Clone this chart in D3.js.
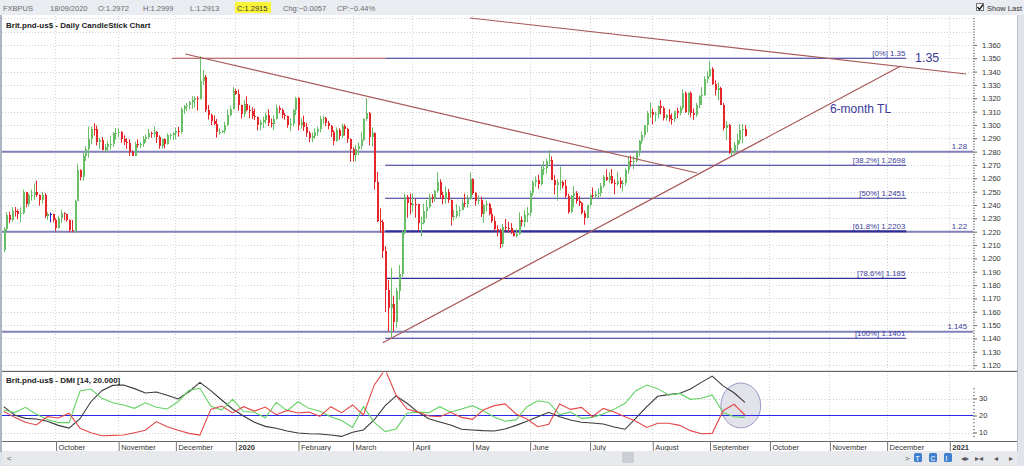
<!DOCTYPE html>
<html><head><meta charset="utf-8">
<script src="https://cdn.jsdelivr.net/npm/d3@7"></script>
<style>
html,body{margin:0;padding:0;background:#e3e7ee;}
svg{display:block;font-family:"Liberation Sans",Arial,sans-serif;}
</style></head><body>
<svg id="chart" width="1024" height="466"></svg>
<script>
// ---------------- DATA ----------------
const symbol = "FXBPUS";
const firstDay = new Date(2019, 8, 4);           // first candle (weekday series)
const opens = [
1.2063,1.2218,1.2324,1.2289,1.2355,1.2354,1.2332,1.2339,1.2499,1.2411,1.2473,1.2475,1.2494,1.2474,1.2434,1.2474,1.2315,1.2330,1.2330,
1.2290,1.2229,1.2301,1.2339,1.2330,1.2290,1.2212,1.2207,1.2432,1.2662,1.2610,1.2770,1.2820,1.2894,1.2968,1.2967,1.2876,1.2885,1.2813,1.2833,1.2858,1.2860,1.2941,
1.2943,1.2945,1.2893,1.2874,1.2864,1.2800,1.2769,1.2860,1.2853,1.2854,1.2897,1.2910,1.2942,1.2934,1.2944,1.2912,1.2841,1.2893,1.2861,1.2921,1.2923,
1.2936,1.2951,1.2946,1.3119,1.3143,1.3151,1.3169,1.3190,1.3201,1.3195,1.3327,1.3363,1.3110,1.3076,1.3030,1.3006,1.2945,1.2946,1.2952,1.2996,1.3077,1.3118,
1.3255,1.3235,1.3147,1.3082,1.3159,1.3111,1.3106,1.3065,1.3060,1.2997,1.3021,1.3034,1.3075,1.3011,1.3005,1.3048,1.3126,1.3113,1.3071,1.3069,1.3002,1.3010,1.3110,
1.3203,1.2998,1.3019,1.2985,1.2937,1.2899,1.2918,1.2946,1.2970,1.3046,1.3049,1.3011,1.2993,1.2945,1.2877,1.2962,1.2919,1.2990,1.2968,1.2894,
1.2823,1.2778,1.2817,1.2845,1.2886,1.3045,1.3090,1.2912,1.2940,1.2573,1.2282,1.2274,1.2058,1.1763,1.1630,1.1660,1.1520,1.1754,1.1883,1.2194,1.2462,1.2415,
1.2403,1.2410,1.2404,1.2264,1.2266,1.2358,1.2386,1.2458,1.2452,1.2506,1.2573,1.2472,1.2443,1.2495,1.2436,1.2309,1.2319,1.2355,1.2366,1.2416,1.2406,1.2443,
1.2592,1.2490,1.2431,1.2436,1.2336,1.2403,1.2406,1.2332,1.2277,1.2217,1.2204,1.2110,1.2233,1.2229,1.2228,1.2193,1.2164,1.2184,1.2290,1.2271,1.2324,
1.2338,1.2488,1.2569,1.2586,1.2560,1.2669,1.2675,1.2732,1.2739,1.2590,1.2549,1.2570,1.2575,1.2543,1.2470,1.2350,1.2467,1.2490,1.2427,1.2416,1.2337,1.2305,
1.2398,1.2473,1.2471,1.2483,1.2487,1.2543,1.2612,1.2590,1.2621,1.2564,1.2561,1.2577,1.2557,1.2566,1.2660,1.2733,1.2724,1.2732,1.2793,1.2878,1.2927,1.2998,1.3091,
1.3096,1.3076,1.3079,1.3141,1.3126,1.3055,1.3072,1.3048,1.3046,1.3102,1.3089,1.3125,1.3242,1.3096,1.3239,1.3089,1.3072,1.3146,1.3215,1.3226,1.3347,
1.3370,1.3423,1.3306,1.3259,1.3276,1.3153,1.2977,1.3000,1.2790,1.2794,1.2847,1.2885,1.2963,1.2972];
const highs = [
1.2232,1.2346,1.2350,1.2384,1.2385,1.2368,1.2383,1.2515,1.2499,1.2486,1.2515,1.2560,1.2582,1.2480,1.2500,1.2490,1.2345,1.2343,1.2335,
1.2300,1.2320,1.2365,1.2345,1.2335,1.2292,1.2288,1.2440,1.2708,1.2667,1.2790,1.2842,1.2988,1.2988,1.3013,1.2996,1.2902,1.2910,1.2857,1.2880,1.2920,1.2948,1.2977,
1.2975,1.2954,1.2922,1.2900,1.2893,1.2810,1.2874,1.2892,1.2871,1.2916,1.2930,1.2970,1.2950,1.2990,1.2955,1.2922,1.2899,1.2900,1.2936,1.2938,1.2945,
1.2980,1.2985,1.3131,1.3150,1.3165,1.3180,1.3215,1.3215,1.3215,1.3514,1.3412,1.3375,1.3150,1.3086,1.3072,1.3045,1.2975,1.2962,1.3022,1.3118,1.3146,1.3284,
1.3270,1.3266,1.3152,1.3185,1.3215,1.3146,1.3132,1.3122,1.3063,1.3040,1.3062,1.3093,1.3118,1.3048,1.3073,1.3152,1.3144,1.3125,1.3090,1.3070,1.3050,1.3120,1.3210,
1.3210,1.3052,1.3070,1.3015,1.2955,1.2943,1.2975,1.2988,1.3069,1.3070,1.3060,1.3031,1.3000,1.2960,1.2981,1.2975,1.3010,1.3005,1.2980,1.2900,
1.2833,1.2848,1.2870,1.2945,1.3052,1.3200,1.3096,1.2983,1.2945,1.2648,1.2375,1.2290,1.2091,1.1839,1.1930,1.1720,1.1780,1.1950,1.2210,1.2485,1.2475,1.2485,
1.2485,1.2445,1.2410,1.2314,1.2410,1.2438,1.2485,1.2480,1.2515,1.2647,1.2592,1.2500,1.2540,1.2520,1.2440,1.2362,1.2405,1.2390,1.2448,1.2485,1.2476,1.2644,
1.2600,1.2495,1.2473,1.2463,1.2406,1.2434,1.2415,1.2376,1.2315,1.2247,1.2223,1.2258,1.2296,1.2274,1.2264,1.2212,1.2220,1.2345,1.2314,1.2361,1.2385,
1.2505,1.2585,1.2614,1.2627,1.2697,1.2729,1.2745,1.2813,1.2764,1.2624,1.2593,1.2688,1.2584,1.2590,1.2485,1.2474,1.2542,1.2504,1.2466,1.2423,1.2358,1.2403,
1.2480,1.2531,1.2505,1.2525,1.2565,1.2625,1.2667,1.2647,1.2669,1.2590,1.2649,1.2607,1.2588,1.2675,1.2768,1.2772,1.2768,1.2810,1.2887,1.2952,1.3000,1.3105,1.3170,
1.3123,1.3100,1.3145,1.3185,1.3140,1.3082,1.3119,1.3086,1.3105,1.3129,1.3143,1.3267,1.3251,1.3245,1.3250,1.3123,1.3165,1.3223,1.3285,1.3365,1.3402,
1.3482,1.3433,1.3334,1.3319,1.3286,1.3165,1.3030,1.3007,1.2829,1.2873,1.2935,1.3006,1.3007,1.2999];
const lows = [
1.2046,1.2205,1.2263,1.2275,1.2313,1.2293,1.2270,1.2330,1.2382,1.2390,1.2433,1.2437,1.2460,1.2395,1.2410,1.2302,1.2287,1.2270,1.2270,
1.2205,1.2222,1.2266,1.2285,1.2275,1.2196,1.2195,1.2190,1.2431,1.2585,1.2582,1.2730,1.2755,1.2856,1.2920,1.2846,1.2820,1.2810,1.2800,1.2798,1.2815,1.2835,1.2890,
1.2905,1.2867,1.2849,1.2820,1.2768,1.2768,1.2767,1.2830,1.2825,1.2835,1.2867,1.2895,1.2904,1.2905,1.2865,1.2822,1.2822,1.2825,1.2852,1.2890,1.2887,
1.2896,1.2912,1.2935,1.3083,1.3105,1.3115,1.3123,1.3130,1.3108,1.3190,1.3300,1.3097,1.3040,1.2998,1.2998,1.2905,1.2927,1.2938,1.2935,1.2990,1.3065,1.3115,
1.3225,1.3107,1.3049,1.3060,1.3102,1.3050,1.3045,1.3037,1.2960,1.2960,1.2977,1.3009,1.2992,1.2982,1.2962,1.3040,1.3088,1.3050,1.3039,1.2980,1.2955,1.2990,1.3075,
1.2960,1.2972,1.2955,1.2910,1.2871,1.2870,1.2894,1.2918,1.2944,1.3008,1.2992,1.2967,1.2910,1.2848,1.2874,1.2890,1.2900,1.2920,1.2865,1.2725,
1.2725,1.2725,1.2774,1.2817,1.2880,1.3029,1.2847,1.2838,1.2515,1.2271,1.2190,1.2002,1.1598,1.1453,1.1409,1.1450,1.1480,1.1690,1.1860,1.2180,1.2305,1.2330,
1.2345,1.2305,1.2207,1.2166,1.2255,1.2300,1.2375,1.2415,1.2425,1.2493,1.2450,1.2405,1.2410,1.2415,1.2247,1.2283,1.2300,1.2313,1.2360,1.2383,1.2380,1.2440,
1.2475,1.2395,1.2406,1.2310,1.2266,1.2350,1.2323,1.2266,1.2205,1.2165,1.2075,1.2085,1.2204,1.2193,1.2183,1.2163,1.2158,1.2176,1.2240,1.2233,1.2270,
1.2315,1.2470,1.2537,1.2521,1.2546,1.2626,1.2634,1.2705,1.2588,1.2480,1.2432,1.2508,1.2525,1.2450,1.2335,1.2341,1.2385,1.2410,1.2391,1.2330,1.2252,1.2303,
1.2383,1.2450,1.2450,1.2455,1.2464,1.2530,1.2580,1.2564,1.2556,1.2480,1.2544,1.2526,1.2500,1.2545,1.2634,1.2688,1.2668,1.2721,1.2765,1.2855,1.2908,1.2945,1.3054,
1.3005,1.3025,1.3050,1.3080,1.3033,1.3032,1.3025,1.3003,1.3022,1.3052,1.3071,1.3116,1.3090,1.3075,1.3057,1.3038,1.3060,1.3125,1.3150,1.3218,1.3313,
1.3358,1.3299,1.3221,1.3185,1.3150,1.2960,1.2885,1.2783,1.2762,1.2771,1.2809,1.2858,1.2864,1.2913];
const closes = [
1.2218,1.2324,1.2289,1.2355,1.2354,1.2332,1.2339,1.2499,1.2411,1.2473,1.2475,1.2494,1.2474,1.2434,1.2474,1.2315,1.2330,1.2330,1.2290,
1.2229,1.2301,1.2339,1.2330,1.2290,1.2212,1.2207,1.2432,1.2662,1.2610,1.2770,1.2820,1.2894,1.2968,1.2967,1.2876,1.2885,1.2813,1.2833,1.2858,1.2860,1.2941,1.2943,
1.2945,1.2893,1.2874,1.2864,1.2800,1.2769,1.2860,1.2853,1.2854,1.2897,1.2910,1.2942,1.2934,1.2944,1.2912,1.2841,1.2893,1.2861,1.2921,1.2923,1.2936,
1.2951,1.2946,1.3119,1.3143,1.3151,1.3169,1.3190,1.3201,1.3195,1.3327,1.3363,1.3110,1.3076,1.3030,1.3006,1.2945,1.2946,1.2952,1.2996,1.3077,1.3118,1.3255,
1.3235,1.3147,1.3082,1.3159,1.3111,1.3106,1.3065,1.3060,1.2997,1.3021,1.3034,1.3075,1.3011,1.3005,1.3048,1.3126,1.3113,1.3071,1.3069,1.3002,1.3010,1.3110,1.3203,
1.2998,1.3019,1.2985,1.2937,1.2899,1.2918,1.2946,1.2970,1.3046,1.3049,1.3011,1.2993,1.2945,1.2877,1.2962,1.2919,1.2990,1.2968,1.2894,1.2823,
1.2778,1.2817,1.2845,1.2886,1.3045,1.3090,1.2912,1.2940,1.2573,1.2282,1.2274,1.2058,1.1763,1.1630,1.1660,1.1520,1.1754,1.1883,1.2194,1.2462,1.2415,1.2403,
1.2410,1.2404,1.2264,1.2266,1.2358,1.2386,1.2458,1.2452,1.2506,1.2573,1.2472,1.2443,1.2495,1.2436,1.2309,1.2319,1.2355,1.2366,1.2416,1.2406,1.2443,1.2592,
1.2490,1.2431,1.2436,1.2336,1.2403,1.2406,1.2332,1.2277,1.2217,1.2204,1.2110,1.2233,1.2229,1.2228,1.2193,1.2164,1.2184,1.2290,1.2271,1.2324,1.2338,
1.2488,1.2569,1.2586,1.2560,1.2669,1.2675,1.2732,1.2739,1.2590,1.2549,1.2570,1.2575,1.2543,1.2470,1.2350,1.2467,1.2490,1.2427,1.2416,1.2337,1.2305,1.2398,
1.2473,1.2471,1.2483,1.2487,1.2543,1.2612,1.2590,1.2621,1.2564,1.2561,1.2577,1.2557,1.2566,1.2660,1.2733,1.2724,1.2732,1.2793,1.2878,1.2927,1.2998,1.3091,1.3096,
1.3076,1.3079,1.3141,1.3126,1.3055,1.3072,1.3048,1.3046,1.3102,1.3089,1.3125,1.3242,1.3096,1.3239,1.3089,1.3072,1.3146,1.3215,1.3226,1.3347,1.3370,
1.3423,1.3306,1.3259,1.3276,1.3153,1.2977,1.3000,1.2790,1.2794,1.2847,1.2885,1.2963,1.2972,1.2915];

// DMI(14) read every 4th trading day (candle index 0,4,8,...)
const dmiStep = 4;
const plusDI = [23.2,21.7,24.8,20.7,17.7,15.8,15.8,34.4,35.6,30.1,27.5,26.2,24.2,27.5,24.8,23.8,28.1,34.8,36,25.6,
23.2,29.5,22.3,21.9,18.7,27.7,22.8,28.1,24.2,22.5,19.3,17,13,25.2,16,10.5,12.1,21.3,22,21.7,
25.2,22,23.8,25.8,22.8,19.1,16.6,17.4,25.2,28.7,27.7,20.5,22,18.3,18.9,20.9,23.6,27.2,34.6,37.9,
35.8,32.1,33,29.5,30.1,32.1,21.7,19.3,18.9];
const minusDI = [22.3,18.9,16,14.4,19.3,18.5,21.3,12.5,9.9,8.1,8.3,8.5,9.9,11.3,16.4,13.4,11.3,9.5,8.5,23.6,
25.6,21.5,25.2,22.6,25,20.5,23,21.5,22,19.5,25.2,21.7,26.2,20.3,38,47,32,23.8,22,19.7,
19.3,21.9,18.9,17.7,23.2,25.8,26.8,20.9,17.9,13.4,14.8,26.8,23.6,24.8,19.3,24.2,22,19.3,16.6,13,
15.4,15.4,14.2,11.1,9.3,9.5,22.8,26.6,20.3];
const adx = [25.2,20.3,18.3,17.9,16.6,14.2,12.6,18.1,28.1,34.6,37.7,37.9,35.8,33.2,33.8,31.9,29.7,34,39.5,34.6,
29.1,23.8,19.7,16,13.6,12.5,10.9,9.7,9.3,9.1,8.5,7.7,10.1,11.5,17.5,25.8,31.5,27.2,22,18.1,
16.2,14.4,11.9,11.5,11.1,10.9,12.1,14.2,16.6,19.3,21.9,19.3,17.4,16,15.6,15,13.2,11.9,18.5,25.2,
31.3,32.3,33,35.6,39.5,43.2,37.4,33.4,27.7];
const dmiRef = 20;

// annotations (candle index, price)
const supportVals = [1.28, 1.22, 1.145];
const supportLabels = ["1.28", "1.22", "1.145"];
const fibPcts = ["0%", "38.2%", "50%", "61.8%", "78.6%", "100%"];
const fibVals = [1.35, 1.2698, 1.2451, 1.2203, 1.185, 1.1401];
const fibValLabels = ["1.35", "1.2698", "1.2451", "1.2203", "1.185", "1.1401"];
const fibSpan = [140, 331.2];
const peakLine = [[61.8, 1.35], [140, 1.35]];
const trendLines = [
  [[66.6, 1.3532], [254.4, 1.2640]],
  [[139.1, 1.1368], [329.2, 1.3442]],
  [[171.1, 1.3802], [353.2, 1.3382]]
];
const noteBig = {text: "1.35", day: 334.4, price: 1.3472};
const noteTL = {text: "6-month TL", day: 303.2, price: 1.3088};
const dmiCircle = {day: 270.5, value: 25.9, dayR: 7.3, valueR: 13.2};

const monthLabels = ["October","November","December","2020","February","March","April","May","June","July","August","September","October","November","December","2021"];
const boldLabels = ["2020","2021"];
const priceTicks = d3.range(112, 137).map(v => v / 100);
const priceMinor = d3.range(559, 691).map(v => v / 500);
const dmiTicks = [10, 20, 30];
const dmiMinor = d3.range(8, 38, 2);

// ---------------- SCALES ----------------
const days = d3.timeDay.range(firstDay, new Date(2021, 1, 1)).filter(d => d.getDay() !== 0 && d.getDay() !== 6);
const dayIdx = d => days.findIndex(e => +e >= +d);
const monthStarts = d3.timeMonth.range(new Date(2019, 9, 1), new Date(2021, 1, 1));
const monthIdx = monthStarts.map(dayIdx);

const PL = 2, PR = 973;
const x = d3.scaleLinear().domain([-0.624, 355.7]).range([PL, PR]);
const y = d3.scaleLinear().domain([1.14, 1.35]).range([338.4, 58.26]);
const yd = d3.scaleLinear().domain([10, 30]).range([432.5, 398.5]);

const candles = closes.map((c, k) => ({k, o: opens[k], h: highs[k], l: lows[k], c}));

// ---------------- FRAME ----------------
const svg = d3.select("#chart");
const defs = svg.append("defs");
defs.append("clipPath").attr("id", "mclip").append("rect").attr("x", PL).attr("y", 16).attr("width", PR - PL).attr("height", 354);
defs.append("clipPath").attr("id", "dclip").append("rect").attr("x", PL).attr("y", 372.5).attr("width", PR - PL).attr("height", 68);

svg.append("rect").attr("width", 1024).attr("height", 466).attr("fill", "#dfe4eb");
svg.append("rect").attr("x", 0).attr("y", 0).attr("width", 1024).attr("height", 15).attr("fill", "#e9ecf1");
svg.append("rect").attr("x", 0).attr("y", 15).attr("width", 2).attr("height", 437).attr("fill", "#aeb6c3");
svg.append("rect").attr("x", 2).attr("y", 15).attr("width", 1015).attr("height", 355).attr("fill", "#fff");
svg.append("rect").attr("x", 2).attr("y", 371).attr("width", 1015).attr("height", 80).attr("fill", "#fff");
svg.append("line").attr("x1", 2).attr("x2", 1017).attr("y1", 371.5).attr("y2", 371.5).attr("stroke", "#666");
svg.append("line").attr("x1", 2).attr("x2", 1017).attr("y1", 441.5).attr("y2", 441.5).attr("stroke", "#666");
svg.append("line").attr("x1", 1017.5).attr("x2", 1017.5).attr("y1", 15).attr("y2", 451).attr("stroke", "#b8bfca");

// header
const last = candles[candles.length - 1], prev = candles[candles.length - 2];
const f4 = d3.format(".4f");
const headerItems = [
  {t: symbol, x: 3},
  {t: d3.timeFormat("%d/%m/%Y")(days[last.k]), x: 50},
  {t: "O:" + f4(last.o), x: 98},
  {t: "H:" + f4(last.h), x: 143},
  {t: "L:" + f4(last.l), x: 190},
  {t: "C:" + f4(last.c), x: 237, hl: true},
  {t: "Chg:" + f4(last.c - prev.c), x: 283},
  {t: "CP:" + d3.format(".2f")((last.c - prev.c) / prev.c * 100) + "%", x: 337}
];
svg.append("rect").attr("x", 235).attr("y", 2).attr("width", 36).attr("height", 11).attr("fill", "#fbf53a");
svg.selectAll("text.hdr").data(headerItems).join("text").attr("class", "hdr")
  .attr("x", d => d.x).attr("y", 10.5).attr("font-size", 7.5).attr("fill", d => d.hl ? "#333" : "#6b6b6b").text(d => d.t);
svg.append("rect").attr("x", 976.5).attr("y", 3.5).attr("width", 7).attr("height", 7).attr("fill", "#fff").attr("stroke", "#777");
svg.append("path").attr("d", "M977.5,7 L979.5,9.5 L983,4.5").attr("fill", "none").attr("stroke", "#222").attr("stroke-width", 1.4);
svg.append("text").attr("x", 987).attr("y", 10.5).attr("font-size", 7.5).attr("fill", "#333").text("Show Last");

// ---------------- MAIN PANEL ----------------
const gm = svg.append("g").attr("clip-path", "url(#mclip)");
// grid
gm.selectAll("line.hg").data(d3.range(112, 139).map(v => v / 100)).join("line")
  .attr("x1", PL).attr("x2", PR).attr("y1", d => Math.round(y(d)) + 0.5).attr("y2", d => Math.round(y(d)) + 0.5)
  .attr("stroke", "#cfd3d8").attr("stroke-dasharray", "1,2");
gm.selectAll("line.vg").data(monthIdx).join("line")
  .attr("x1", d => Math.round(x(d)) + 0.5).attr("x2", d => Math.round(x(d)) + 0.5).attr("y1", 16).attr("y2", 370)
  .attr("stroke", "#cfd3d8").attr("stroke-dasharray", "1,2");

// support lines
gm.selectAll("line.sup").data(supportVals).join("line")
  .attr("x1", PL).attr("x2", PR).attr("y1", d => y(d)).attr("y2", d => y(d))
  .attr("stroke", "#8080bb").attr("stroke-width", 2);
// fib lines
gm.selectAll("line.fib").data(fibVals).join("line")
  .attr("x1", x(fibSpan[0])).attr("x2", x(fibSpan[1])).attr("y1", d => y(d)).attr("y2", d => y(d))
  .attr("stroke", "#2e2e96").attr("stroke-width", (d, i) => i === 3 ? 2 : 1.1);
// peak horizontal (red)
gm.append("line").attr("x1", x(peakLine[0][0])).attr("x2", x(peakLine[1][0]))
  .attr("y1", y(peakLine[0][1])).attr("y2", y(peakLine[1][1])).attr("stroke", "#b24a4a").attr("stroke-width", 1.2);

// candles
const colr = d => d.c > d.o ? "#68bf68" : (d.c < d.o ? "#e5262b" : "#1a1ae0");
const cx = d => Math.round(x(d.k));
gm.selectAll("line.wick").data(candles).join("line")
  .attr("x1", d => cx(d) + 0.5).attr("x2", d => cx(d) + 0.5)
  .attr("y1", d => y(d.h)).attr("y2", d => y(d.l))
  .attr("stroke", colr).attr("stroke-width", 1);
gm.selectAll("rect.body").data(candles).join("rect")
  .attr("x", d => cx(d) - 0.5).attr("width", 2)
  .attr("y", d => y(Math.max(d.o, d.c)))
  .attr("height", d => Math.max(1, Math.abs(y(d.o) - y(d.c))))
  .attr("fill", colr).attr("shape-rendering", "crispEdges");

// trendlines
gm.selectAll("line.tl").data(trendLines).join("line")
  .attr("x1", d => x(d[0][0])).attr("y1", d => y(d[0][1]))
  .attr("x2", d => x(d[1][0])).attr("y2", d => y(d[1][1]))
  .attr("stroke", "#a85858").attr("stroke-width", 1.2);

// labels
const lblColor = "#3c3c96";
gm.selectAll("text.fibl").data(fibVals).join("text")
  .attr("x", x(fibSpan[1]) - 1).attr("y", d => y(d) - 2).attr("text-anchor", "end")
  .attr("font-size", 7.8).attr("fill", lblColor)
  .text((d, i) => "[" + fibPcts[i] + "] " + fibValLabels[i]);
gm.selectAll("text.supl").data(supportVals).join("text")
  .attr("x", PR - 6).attr("y", d => y(d) - 2.5).attr("text-anchor", "end")
  .attr("font-size", 7.8).attr("fill", lblColor).text((d, i) => supportLabels[i]);
gm.append("text").attr("x", x(noteBig.day)).attr("y", y(noteBig.price))
  .attr("font-size", 12.5).attr("fill", "#3a3a98").text(noteBig.text);
gm.append("text").attr("x", x(noteTL.day)).attr("y", y(noteTL.price))
  .attr("font-size", 12).attr("fill", "#3a3a98").text(noteTL.text);

svg.append("text").attr("x", 6).attr("y", 28).attr("font-size", 8).attr("font-weight", "bold").attr("fill", "#222")
  .text("Brit.pnd-us$ - Daily CandleStick Chart");

// price axis
const pAxis = svg.append("g").attr("transform", `translate(${PR},0)`)
  .call(d3.axisRight(y).tickValues(priceTicks).tickSize(4).tickFormat(d3.format(".3f")));
pAxis.select(".domain").remove();
pAxis.selectAll("line").attr("stroke", "#666");
pAxis.selectAll("text").attr("x", 9).attr("font-size", 7.5).attr("fill", "#333").attr("font-family", "Liberation Sans, Arial");
const pMinor = svg.append("g").attr("transform", `translate(${PR},0)`)
  .call(d3.axisRight(y).tickValues(priceMinor).tickSize(2).tickFormat(""));
pMinor.select(".domain").remove();
pMinor.selectAll("line").attr("stroke", "#888");

// ---------------- DMI PANEL ----------------
const gd = svg.append("g").attr("clip-path", "url(#dclip)");
gd.selectAll("line.hg").data([10, 30]).join("line")
  .attr("x1", PL).attr("x2", PR).attr("y1", d => Math.round(yd(d)) + 0.5).attr("y2", d => Math.round(yd(d)) + 0.5)
  .attr("stroke", "#cfd3d8").attr("stroke-dasharray", "1,2");
gd.selectAll("line.vg").data(monthIdx).join("line")
  .attr("x1", d => Math.round(x(d)) + 0.5).attr("x2", d => Math.round(x(d)) + 0.5).attr("y1", 372).attr("y2", 441)
  .attr("stroke", "#cfd3d8").attr("stroke-dasharray", "1,2");
gd.append("ellipse")
  .attr("cx", x(dmiCircle.day)).attr("cy", yd(dmiCircle.value))
  .attr("rx", x(dmiCircle.day + dmiCircle.dayR) - x(dmiCircle.day))
  .attr("ry", yd(dmiCircle.value - dmiCircle.valueR) - yd(dmiCircle.value))
  .attr("fill", "#e2e2ea").attr("stroke", "#9a9ac6").attr("stroke-width", 1);
gd.append("line").attr("x1", PL).attr("x2", PR).attr("y1", yd(dmiRef)).attr("y2", yd(dmiRef))
  .attr("stroke", "#2a2ae6").attr("stroke-width", 1.2);
const dline = d3.line().x((d, j) => x(j * dmiStep)).y(d => yd(d));
[[adx, "#3a3a3a"], [plusDI, "#64d264"], [minusDI, "#e44848"]].forEach(([arr, c]) => {
  gd.append("path").datum(arr).attr("d", dline).attr("fill", "none").attr("stroke", c).attr("stroke-width", 1.1);
});
svg.append("text").attr("x", 6).attr("y", 383).attr("font-size", 8).attr("font-weight", "bold").attr("fill", "#222")
  .text("Brit.pnd-us$ - DMI [14, 20.000]");
const dAxis = svg.append("g").attr("transform", `translate(${PR},0)`)
  .call(d3.axisRight(yd).tickValues(dmiTicks).tickSize(4));
dAxis.select(".domain").remove();
dAxis.selectAll("line").attr("stroke", "#666");
dAxis.selectAll("text").attr("x", 6).attr("font-size", 7.5).attr("fill", "#333").attr("font-family", "Liberation Sans, Arial");
const dMinor = svg.append("g").attr("transform", `translate(${PR},0)`)
  .call(d3.axisRight(yd).tickValues(dmiMinor).tickSize(2).tickFormat(""));
dMinor.select(".domain").remove();
dMinor.selectAll("line").attr("stroke", "#888");

// ---------------- X AXIS ----------------
const xAxis = svg.append("g").attr("transform", "translate(0,441)")
  .call(d3.axisBottom(x).tickValues(monthIdx).tickSize(10).tickFormat((d, i) => monthLabels[i]));
xAxis.select(".domain").remove();
xAxis.selectAll(".tick line").attr("stroke", "#777").attr("transform", "translate(0.5,0)");
xAxis.selectAll(".tick text").attr("text-anchor", "start").attr("x", 2.5).attr("y", 3.5).attr("dy", "0.71em")
  .attr("font-size", 7.5).attr("fill", "#333").attr("font-family", "Liberation Sans, Arial")
  .attr("font-weight", (d, i) => boldLabels.includes(monthLabels[i]) ? "bold" : "normal");

// ---------------- SCROLL BAR ----------------
svg.append("rect").attr("x", 2).attr("y", 451).attr("width", 1015).attr("height", 14).attr("fill", "#e7e9ed");
svg.append("text").attr("x", 7).attr("y", 461).attr("font-size", 8).attr("fill", "#555").text("<");
svg.append("rect").attr("x", 622).attr("y", 452).attr("width", 12).attr("height", 11).attr("fill", "#cbced3");
svg.append("text").attr("x", 905).attr("y", 461).attr("font-size", 8).attr("fill", "#555").text(">");
[914, 929, 944].forEach((bx, i) => {
  svg.append("rect").attr("x", bx).attr("y", 453).attr("width", 8).attr("height", 9).attr("rx", 1.5).attr("fill", "#3f7fd0");
  svg.append("text").attr("x", bx + 1.5).attr("y", 460.5).attr("font-size", 6.5).attr("font-weight", "bold").attr("fill", "#dfe9f7").text(["T", "C", "I"][i]);
});
const glyphs = [["◂▸", 961], ["▸◂", 975], ["◂", 994], ["▸", 1009]];
glyphs.forEach(([g, gx]) => svg.append("text").attr("x", gx).attr("y", 461).attr("font-size", 8)
  .attr("font-family", "DejaVu Sans").attr("fill", "#555").text(g));
</script>
</body></html>
